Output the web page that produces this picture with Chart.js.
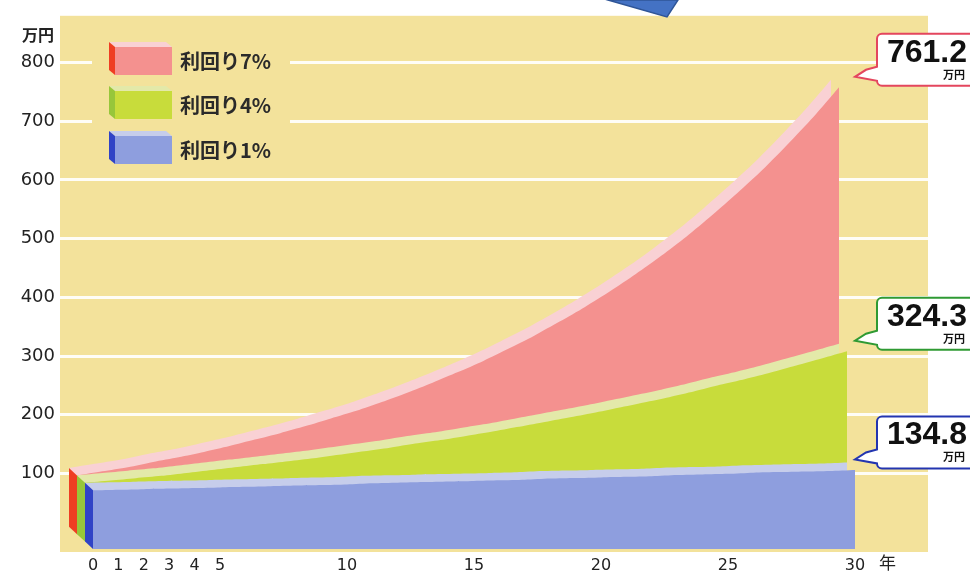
<!DOCTYPE html>
<html lang="ja">
<head>
<meta charset="utf-8">
<title>利回り別 資産の推移</title>
<script src="https://cdn.jsdelivr.net/npm/chart.js@4.4.1/dist/chart.umd.min.js"></script>
<style>
  html, body { margin: 0; padding: 0; background: #fff; }
  canvas { display: block; }
</style>
</head>
<body>
<canvas id="chart" width="970" height="574"></canvas>
<script>
// 100万円を30年間運用した場合の残高 (万円)
const years = [0, 1, 2, 3, 4, 5, 6, 7, 8, 9, 10, 11, 12, 13, 14, 15, 16, 17, 18, 19, 20, 21, 22, 23, 24, 25, 26, 27, 28, 29, 30]
const rate7 = [100, 107, 114, 123, 131, 140, 150, 161, 172, 184, 197, 210, 225, 241, 258, 276, 295, 316, 338, 362, 387, 414, 443, 474, 507, 543, 581, 621, 665, 711, 761.2]
const rate4 = [100, 104, 108, 112, 117, 122, 127, 132, 137, 142, 148, 154, 160, 167, 173, 180, 187, 195, 203, 211, 219, 228, 237, 246, 256, 267, 277, 288, 300, 312, 324.3]
const rate1 = [100, 101, 102, 103, 104, 105, 106, 107, 108, 109, 110, 112, 113, 114, 115, 116, 117, 118, 120, 121, 122, 123, 124, 126, 127, 128, 130, 131, 132, 133, 134.8]
const seriesNames = ["利回り7%", "利回り4%", "利回り1%"]
const xTicks = [0, 1, 2, 3, 4, 5, 10, 15, 20, 25, 30]
const yTicks = [100, 200, 300, 400, 500, 600, 700, 800]
const yUnit = "万円"
const xUnit = "年"

// front face / top face / left side face / callout border
const palette = [
    {front: "#f4918f", top: "#f9d1d4", side: "#ef3e22", edge: "#e4465e"},
    {front: "#c8dc3b", top: "#e3e9a9", side: "#97c63a", edge: "#2f9a33"},
    {front: "#8e9ede", top: "#c6cdeb", side: "#3043c6", edge: "#2335b0"},
]
const bgYellow = "#f3e29b"

// layout of the plot and of the pseudo 3D rows
const area = {left: 60, right: 928, top: 12, bottom: 552}
const pxYear = 25.4
const pxUnit = 0.59125
const yearZeroX = 93
const valueZeroY = 532
const frontFloorY = 549
const depthX = 8
const depthY = 7.5

function xRange(level) {
    const min = -(yearZeroX - area.left) / pxYear + level * depthX / pxYear
    return {min, max: min + (area.right - area.left) / pxYear}
}
function yRange(shift) {
    const min = -(area.bottom - valueZeroY) / pxUnit + shift / pxUnit
    return {min, max: min + (area.bottom - area.top) / pxUnit}
}

const scales = {
    x: {
        type: "linear",
        position: "bottom",
        ...xRange(0),
        afterBuildTicks: (s) => { s.ticks = xTicks.map(v => ({value: v})) },
        afterFit: (s) => { s.height = 574 - area.bottom },
        ticks: {autoSkip: false, maxRotation: 0, padding: -4, color: "#222", font: {family: "DejaVu Sans", size: 16}},
        grid: {display: false},
        border: {display: false},
    },
    y: {
        type: "linear",
        position: "left",
        ...yRange(0),
        afterBuildTicks: (s) => { s.ticks = yTicks.map(v => ({value: v})) },
        afterFit: (s) => { s.width = area.left },
        ticks: {padding: 5, color: "#222", font: {family: "DejaVu Sans", size: 18}},
        grid: {color: "rgba(255,255,255,0.92)", lineWidth: 3, drawTicks: false},
        border: {display: false},
    },
}
// one hidden pair of axes per depth level, 0 = front row
for (let k = 0; k < 4; k++) {
    scales["x" + k] = {type: "linear", axis: "x", position: "bottom", display: false, ...xRange(k)}
    scales["y" + k] = {type: "linear", axis: "y", position: "left", display: false, ...yRange(frontFloorY - depthY * k - valueZeroY)}
}

// rows from front to back
const rows = [
    {values: rate1, level: 0, colors: palette[2]},
    {values: rate4, level: 1, colors: palette[1]},
    {values: rate7, level: 2, colors: palette[0]},
]

const datasets = []
rows.forEach(row => {
    const points = years.map((yr, i) => ({x: yr, y: row.values[i]}))
    datasets.push({data: points, xAxisID: "x" + row.level, yAxisID: "y" + row.level, backgroundColor: row.colors.front})
    datasets.push({data: points, xAxisID: "x" + (row.level + 1), yAxisID: "y" + (row.level + 1), backgroundColor: row.colors.top})
})
datasets.forEach(ds => {
    ds.fill = "origin"
    ds.borderWidth = 0
    ds.borderColor = "rgba(0,0,0,0)"
    ds.pointRadius = 0
    ds.tension = 0.25
})

function polygon(ctx, pts, color) {
    ctx.beginPath()
    ctx.moveTo(pts[0][0], pts[0][1])
    for (let i = 1; i < pts.length; i++) ctx.lineTo(pts[i][0], pts[i][1])
    ctx.closePath()
    ctx.fillStyle = color
    ctx.fill()
}

function drawCallout(ctx, tipX, tipY, text, color) {
    const left = tipX + 22, top = tipY - 43, w = 110, h = 52, r = 5
    ctx.beginPath()
    ctx.moveTo(left + r, top)
    ctx.lineTo(left + w, top)
    ctx.lineTo(left + w, top + h)
    ctx.lineTo(left + r, top + h)
    ctx.arcTo(left, top + h, left, top + h - r, r)
    ctx.lineTo(left, tipY + 4)
    ctx.lineTo(tipX, tipY)
    ctx.lineTo(left - 11, tipY - 7)
    ctx.lineTo(left, tipY - 10)
    ctx.lineTo(left, top + r)
    ctx.arcTo(left, top, left + r, top, r)
    ctx.closePath()
    ctx.fillStyle = "#fff"
    ctx.fill()
    ctx.lineWidth = 2
    ctx.strokeStyle = color
    ctx.stroke()

    ctx.fillStyle = "#111"
    ctx.textAlign = "right"
    ctx.textBaseline = "alphabetic"
    ctx.font = "bold 32px 'Liberation Sans'"
    ctx.fillText(text, 967, top + 28)
    ctx.font = "bold 11px 'Noto Sans CJK JP'"
    ctx.fillText(yUnit, 965, top + 45)
}

const decorations = {
    id: "decorations",
    beforeDraw(chart) {
        const {ctx, chartArea: a} = chart
        ctx.save()
        ctx.fillStyle = bgYellow
        ctx.fillRect(a.left, a.top, a.right - a.left, a.bottom - a.top)
        ctx.restore()
    },
    beforeDatasetsDraw(chart) {
        // plain backing behind the legend, hides the grid there
        const ctx = chart.ctx
        ctx.save()
        ctx.fillStyle = bgYellow
        ctx.fillRect(92, 30, 198, 138)
        ctx.restore()
    },
    afterDatasetsDraw(chart) {
        // left side face of each row at year 0
        const ctx = chart.ctx
        ctx.save()
        rows.forEach(row => {
            const k = row.level
            const xf = chart.scales["x" + k].getPixelForValue(years[0])
            const xb = chart.scales["x" + (k + 1)].getPixelForValue(years[0])
            const yf = chart.scales["y" + k], yb = chart.scales["y" + (k + 1)]
            polygon(ctx, [
                [xb, yb.getPixelForValue(row.values[0])],
                [xf, yf.getPixelForValue(row.values[0])],
                [xf, yf.getPixelForValue(0)],
                [xb, yb.getPixelForValue(0)],
            ], row.colors.side)
        })
        ctx.restore()
    },
    afterDraw(chart) {
        const ctx = chart.ctx
        ctx.save()

        // legend with little 3D blocks
        const legendTops = [42, 86, 131]
        seriesNames.forEach((name, i) => {
            const c = palette[i], x = 109, y = legendTops[i]
            polygon(ctx, [[x + 6, y + 5], [x + 63, y + 5], [x + 63, y + 33], [x + 6, y + 33]], c.front)
            polygon(ctx, [[x, y], [x + 57, y], [x + 63, y + 5], [x + 6, y + 5]], c.top)
            polygon(ctx, [[x, y], [x + 6, y + 5], [x + 6, y + 33], [x, y + 28]], c.side)
            ctx.fillStyle = "#2a2a2a"
            ctx.font = "bold 20px 'Noto Sans CJK JP'"
            ctx.textAlign = "left"
            ctx.textBaseline = "middle"
            ctx.fillText(name, 180, y + 19)
        })

        // axis units
        ctx.fillStyle = "#222"
        ctx.font = "bold 16px 'Noto Sans CJK JP'"
        ctx.textAlign = "right"
        ctx.textBaseline = "middle"
        ctx.fillText(yUnit, 54, 35)
        ctx.font = "17px 'Noto Sans CJK JP'"
        ctx.textAlign = "left"
        const last = years.length - 1
        ctx.fillText(xUnit, chart.scales.x.getPixelForValue(years[last]) + 24, 563)

        // value callouts at year 30
        rows.slice().reverse().forEach(row => {
            const tipX = chart.scales.x.getPixelForValue(years[last])
            const tipY = chart.scales["y" + (row.level + 1)].getPixelForValue(row.values[last]) - 3
            drawCallout(ctx, tipX, tipY, row.values[last].toFixed(1), row.colors.edge)
        })

        // blue pointer shape poking in from the top
        ctx.beginPath()
        ctx.moveTo(608, 0)
        ctx.lineTo(667, 17)
        ctx.lineTo(678, 0)
        ctx.closePath()
        ctx.fillStyle = "#4472c4"
        ctx.fill()
        ctx.lineWidth = 1.5
        ctx.strokeStyle = "#2f5597"
        ctx.stroke()

        ctx.restore()
    }
}

new Chart(document.getElementById("chart"), {
    type: "line",
    data: {datasets},
    options: {
        responsive: false,
        animation: false,
        events: [],
        layout: {padding: {top: area.top, right: 970 - area.right, left: 0, bottom: 0}},
        scales,
        plugins: {
            legend: {display: false},
            tooltip: {enabled: false},
        },
    },
    plugins: [decorations],
})
</script>
</body>
</html>
